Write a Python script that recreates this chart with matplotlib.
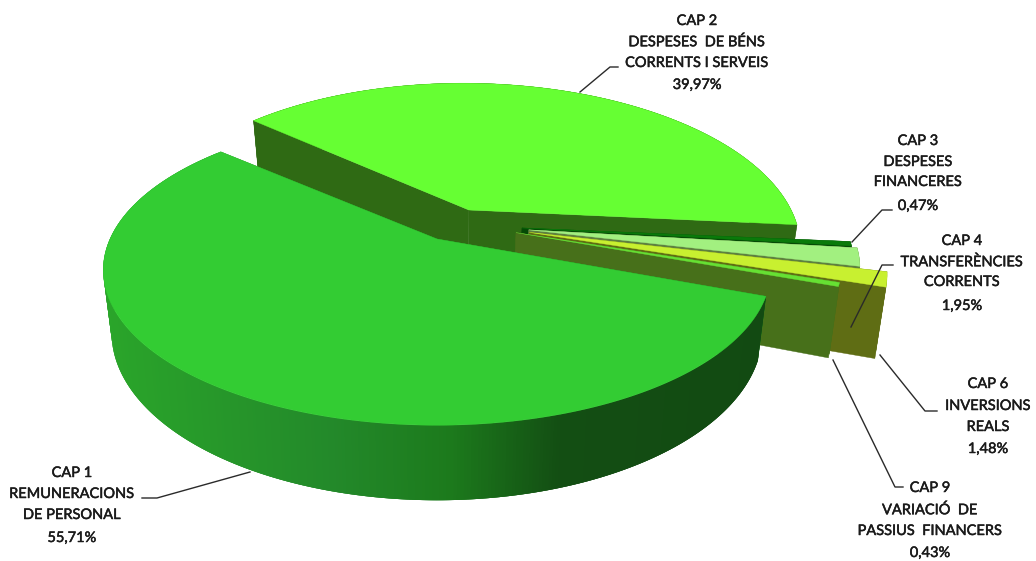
import numpy as np
import matplotlib
matplotlib.use("Agg")
import matplotlib.pyplot as plt
from matplotlib.patches import Polygon
from matplotlib.colors import to_rgb
import matplotlib.patheffects as pe

# ---- data ----
categories = ["CAP 1", "CAP 9", "CAP 6", "CAP 4", "CAP 3", "CAP 2"]
values = [55.71, 0.43, 1.48, 1.95, 0.47, 39.97]
label_lines = {
    "CAP 1": ["REMUNERACIONS", "DE PERSONAL"],
    "CAP 2": ["DESPESES  DE BÉNS", "CORRENTS I SERVEIS"],
    "CAP 3": ["DESPESES", "FINANCERES"],
    "CAP 4": ["TRANSFERÈNCIES", "CORRENTS"],
    "CAP 6": ["INVERSIONS", "REALS"],
    "CAP 9": ["VARIACIÓ  DE", "PASSIUS  FINANCERS"],
}

# ---- styles ----
top_col = {"CAP 1": "#33CC33", "CAP 9": "#66E033", "CAP 6": "#C8F030",
           "CAP 4": "#A2F080", "CAP 3": "#0A7A0A", "CAP 2": "#66FF33"}
side_col = {"CAP 1": "#1F8F1F", "CAP 9": "#47701A", "CAP 6": "#5F6D14",
            "CAP 4": "#5E8040", "CAP 3": "#054A05", "CAP 2": "#2F6A14"}
# plane offset (x, y), radii and wall height of each exploded slice
explode = {"CAP 1": (0, 0, 0.985, 1.0, 60), "CAP 9": (0.24, 0.043, 0.96, 0.96, 67),
           "CAP 6": (0.28, 0.045, 1.05, 1.05, 67), "CAP 4": (0.28, 0.062, 0.978, 0.983, 60),
           "CAP 3": (0.26, 0.075, 0.985, 0.985, 60), "CAP 2": (0.10, 0.2025, 1.01, 1.12, 60)}
label_x = {"CAP 1": 72, "CAP 2": 697, "CAP 3": 918, "CAP 4": 962, "CAP 6": 988, "CAP 9": 930}
label_y = {"CAP 1": [473, 494, 515, 538], "CAP 2": [21, 42, 63, 85],
           "CAP 3": [141, 162, 182, 206], "CAP 4": [241, 262, 282, 306],
           "CAP 6": [384, 406, 427, 449], "CAP 9": [488, 510, 531, 553]}
leaders = {"CAP 1": [(250, 472), (157, 498), (142, 498)],
           "CAP 2": [(580, 92), (610, 67), (618, 67)],
           "CAP 3": [(852, 242), (882, 210), (892, 210)],
           "CAP 4": [(851, 327), (882, 265), (893, 265)],
           "CAP 6": [(880, 355), (925, 411), (937, 411)],
           "CAP 9": [(833, 360), (895, 487), (903, 487)]}

OX, OY, A, B, K, BOT = 437, 239, 332, 149, 0.2, 0.975
START = 138.5


def project(X, Y, T=0, low=False):
    w = 1 / (1 + K * Y)
    sx = OX + A * X * w * (BOT if low else 1)
    sy = OY - B * Y * w + (T * w if low else 0)
    return np.column_stack([sx, sy])


ramp_x = [105, 330, 450, 560, 770]
ramp_c = [to_rgb(c) for c in ["#2AA52A", "#23892A", "#1C7A1C", "#134E13", "#124A12"]]


def ramp(x):
    return [np.interp(x, ramp_x, [c[i] for c in ramp_c]) for i in range(3)]


fig = plt.figure(figsize=(10.36, 5.61), dpi=100)
ax = fig.add_axes([0, 0, 1, 1])
ax.set_xlim(0, 1036)
ax.set_ylim(561, 0)
ax.axis("off")

angles = {}
cur = START
for c, v in zip(categories, values):
    angles[c] = (cur, cur + v / 100 * 360)
    cur += v / 100 * 360

for c in ["CAP 2", "CAP 3", "CAP 4", "CAP 6", "CAP 9", "CAP 1"]:
    a0, a1 = angles[c]
    ox, oy, rx, ry, T = explode[c]
    th = np.radians(np.linspace(a0, a1, max(3, int((a1 - a0) * 2))))
    X = ox + rx * np.cos(th)
    Y = oy + ry * np.sin(th)
    top = project(X, Y)
    low = project(X, Y, T, True)
    apex_t = project(np.array([ox]), np.array([oy]))
    apex_l = project(np.array([ox]), np.array([oy]), T, True)
    sc = side_col[c]
    for i in (0, -1):
        ax.add_patch(Polygon([apex_t[0], top[i], low[i], apex_l[0]], fc=sc, ec=sc, lw=0.3))
    # outer wall: overlapping facets, painted in order, so no seams show
    for i in range(len(th) - 1):
        j = min(i + 3, len(th) - 1)
        col = ramp(top[i, 0]) if c == "CAP 1" else sc
        ax.add_patch(Polygon([top[i], top[j], low[j], low[i]], fc=col, ec="none", lw=0))
    ax.add_patch(Polygon(np.vstack([apex_t, top]), fc=top_col[c], ec=top_col[c], lw=0.3))

halo = [pe.withStroke(linewidth=0.35, foreground="#1a1a1a")]
for c, v in zip(categories, values):
    lines = [c] + label_lines[c] + [f"{v:.2f}%".replace(".", ",")]
    for y, s in zip(label_y[c], lines):
        ax.text(label_x[c], y, s, ha="center", va="center", fontsize=10.5,
                family="Lato", color="#1a1a1a", path_effects=halo)
    pts = np.array(leaders[c])
    ax.plot(pts[:, 0], pts[:, 1], color="#2a2a2a", lw=1.0)

fig.savefig("out.png", dpi=100)
